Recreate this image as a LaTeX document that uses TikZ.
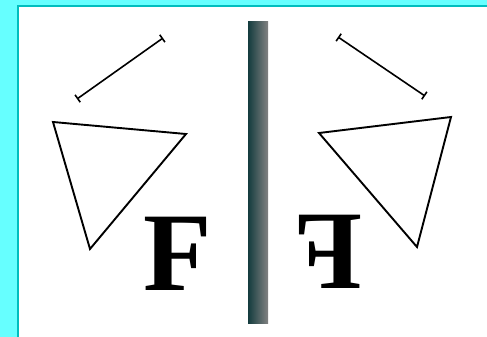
\documentclass[tikz,border=0pt]{standalone}
\usepackage{fontspec}
\usepackage{graphicx}
\setmainfont{Liberation Serif}
\usetikzlibrary{arrows.meta}
\definecolor{cyanbg}{RGB}{102,255,255}
\definecolor{cyanedge}{RGB}{0,190,190}
\definecolor{mirdark}{RGB}{20,60,62}
\definecolor{mirlight}{RGB}{130,130,130}
\tikzset{
  shape line/.style={line width=1.9pt, line join=miter},
  rod/.style={line width=1.6pt, {Bar[width=9pt,line width=1.6pt]}-{Bar[width=9pt,line width=1.6pt]}},
  bigF/.style={inner sep=0pt, anchor=base, font=\fontsize{112}{112}\selectfont\bfseries}
}
\begin{document}
\begin{tikzpicture}[x=1pt,y=-1pt]
\useasboundingbox (0,0) rectangle (487,337);
% frame
\fill[cyanbg] (0,0) rectangle (487,337);
\fill[cyanedge] (17,5) rectangle (487,337);
\fill[white] (19,7) rectangle (487,337);
% mirror
\shade[left color=mirdark, right color=mirlight] (248,22) rectangle (268,323);
% left rod and triangle
\coordinate (la) at (77,99);
\coordinate (lb) at (163,38);
\draw[rod] (la) -- (lb);
\draw[shape line] (53,122) -- (186,134) -- (90,249) -- cycle;
% right rod and triangle
\coordinate (ra) at (338,37);
\coordinate (rb) at (425,96);
\draw[rod] (ra) -- (rb);
\draw[shape line] (451,117) -- (319,133) -- (417,247) -- cycle;
% letters
\node[bigF] (fl) at (178,290) {F};
\node[bigF] (fr) at (328,288) {\scalebox{-1}[1]{F}};
\end{tikzpicture}
\end{document}
